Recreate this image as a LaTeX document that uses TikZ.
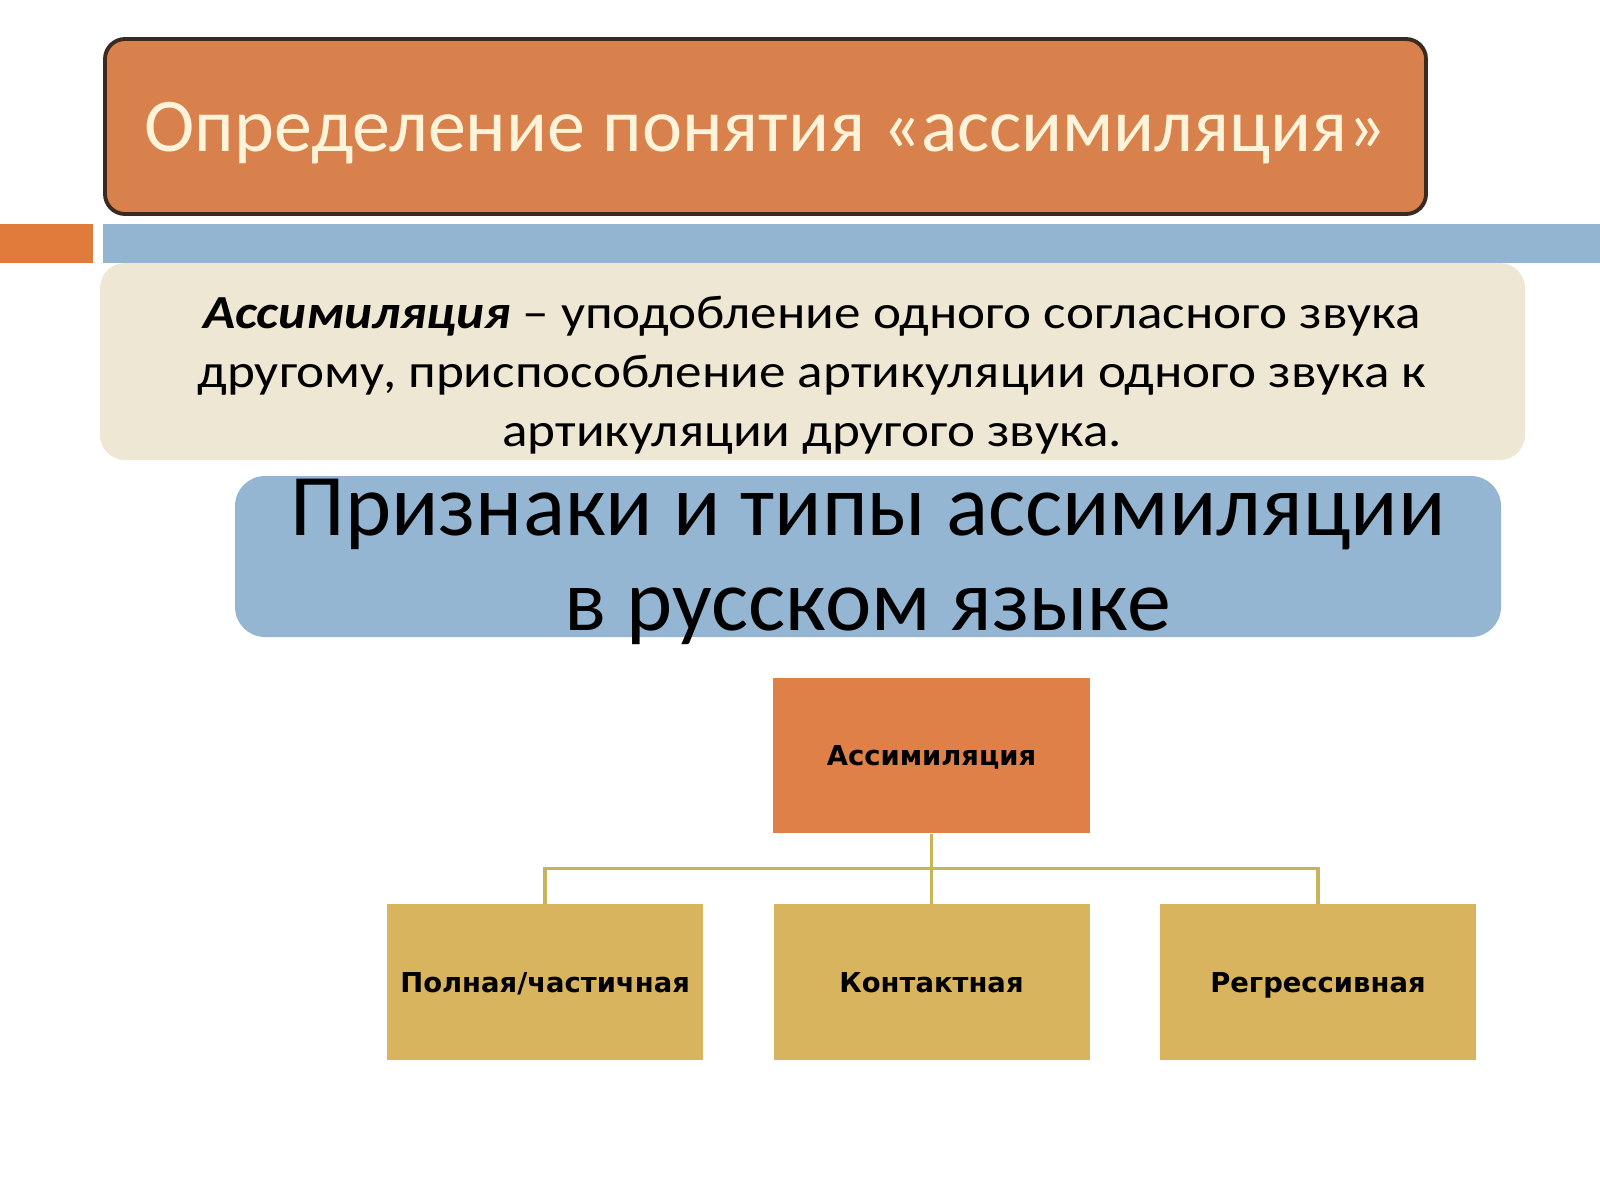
\documentclass[tikz,border=0pt]{standalone}
\usepackage{fontspec}
\setmainfont{Carlito}
\newfontfamily\deffont[FakeStretch=1.12]{Carlito}
\newfontfamily\chartfont{DejaVu Sans}
\usetikzlibrary{positioning}
\definecolor{titleorange}{HTML}{D9814D}
\definecolor{titleedge}{HTML}{3B2A20}
\definecolor{titlecream}{HTML}{FFF4DA}
\definecolor{barorange}{HTML}{E07B3C}
\definecolor{barblue}{HTML}{93B5D1}
\definecolor{defbeige}{HTML}{EEE7D4}
\definecolor{headblue}{HTML}{95B6D3}
\definecolor{rootorange}{HTML}{DF8048}
\definecolor{kindgold}{HTML}{D8B45F}
\definecolor{branchgold}{HTML}{C9B357}

\begin{document}
\begin{tikzpicture}[
    titlebox/.style={rectangle, rounded corners=0.2cm, draw=titleedge, line width=1.1pt,
      fill=titleorange, text=titlecream, minimum width=13.21cm, minimum height=1.75cm,
      text depth=0pt, font=\fontsize{21.6}{26}\selectfont},
    defbox/.style={rectangle, rounded corners=0.25cm, fill=defbeige,
      minimum width=14.25cm, minimum height=1.97cm},
    deftext/.style={align=center, font=\deffont\fontsize{13.5}{16.8}\selectfont},
    headbox/.style={rectangle, rounded corners=0.3cm, fill=headblue,
      minimum width=12.66cm, minimum height=1.61cm},
    headtext/.style={align=center, font=\fontsize{25}{27.1}\selectfont},
    rootbox/.style={rectangle, fill=rootorange, minimum width=3.17cm, minimum height=1.55cm,
      text depth=0pt, font=\chartfont\bfseries\fontsize{7.8}{9}\selectfont},
    kindbox/.style={rectangle, fill=kindgold, minimum width=3.16cm, minimum height=1.56cm,
      text depth=0pt, font=\chartfont\bfseries\fontsize{7.8}{9}\selectfont},
    branch/.style={draw=branchgold, line width=1pt}
  ]
  \fill[white] (0,0) rectangle (16,-12);
  \useasboundingbox (0,0) rectangle (16,-12);

  % title and bars
  \node[titlebox] (title) at (7.655,-1.265) {Определение понятия «ассимиляция»};
  \fill[barorange] (0,-2.24) rectangle (0.93,-2.63);
  \fill[barblue] (1.03,-2.24) rectangle (16,-2.63);

  % definition
  \node[defbox] (defn) at (8.125,-3.615) {};
  \node[deftext] (defntext) at (8.12,-3.755) {\textbf{\textit{Ассимиляция}} – уподобление одного согласного звука\\
    другому, приспособление артикуляции одного звука к\\
    артикуляции другого звука.};

  % heading
  \node[headbox] (head) at (8.68,-5.565) {};
  \node[headtext] (headtext) at ([yshift=-0.05cm]head) {Признаки и типы ассимиляции\\ в русском языке};

  % chart
  \node[rootbox] (assim) at (9.315,-7.555) {Ассимиляция};
  \node[kindbox, below=0.7 of assim] (contact) {Контактная};
  \node[kindbox, left=0.69 of contact] (full) {Полная/частичная};
  \node[kindbox, right=0.69 of contact] (regr) {Регрессивная};
  \draw[branch] (assim) -- (contact);
  \draw[branch] (full.north) -- ++(0,0.35) -| (regr.north);
\end{tikzpicture}
\end{document}
